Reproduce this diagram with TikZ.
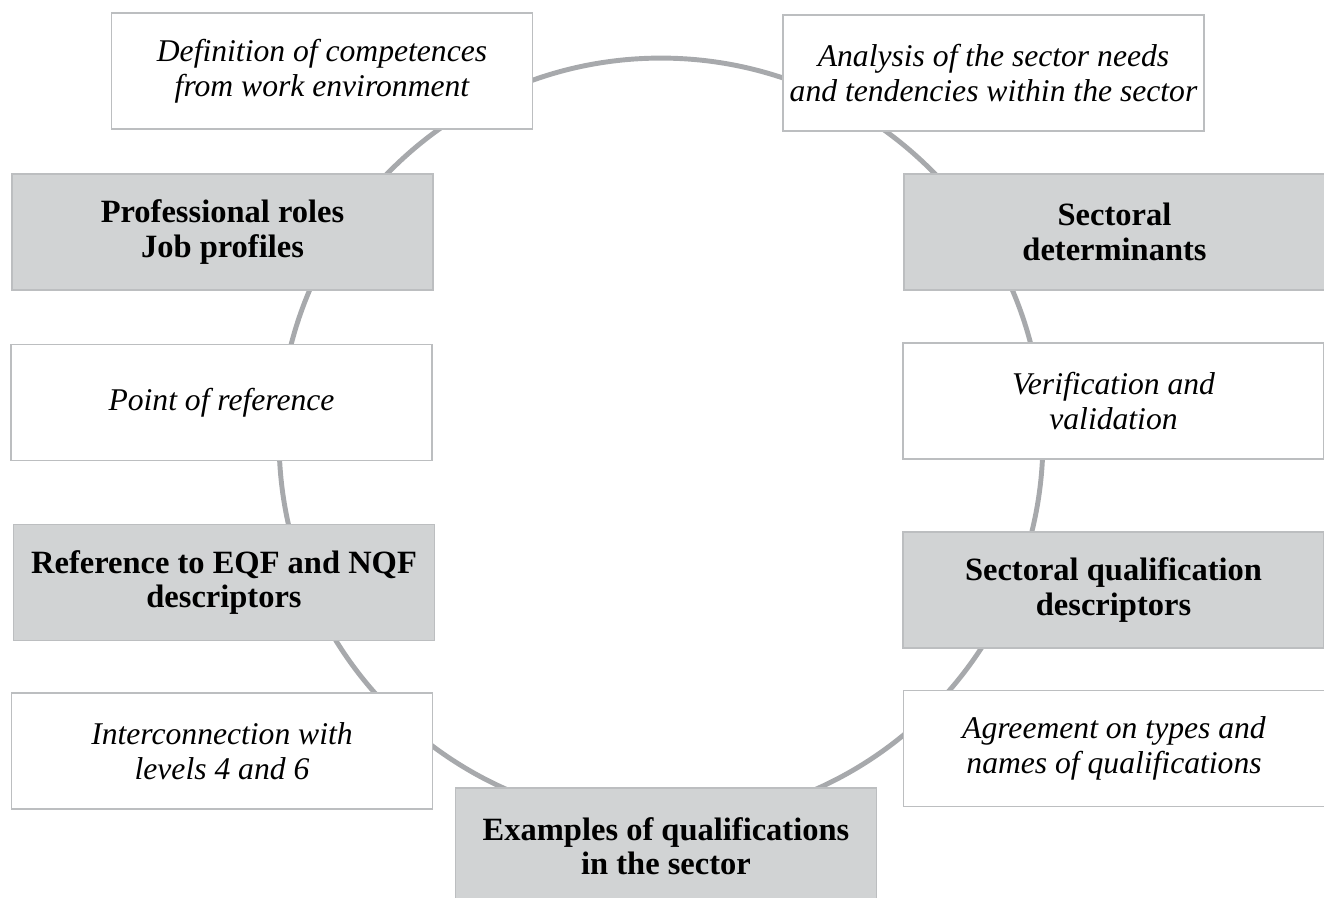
\documentclass[tikz,border=0pt]{standalone}
\usepackage{fontspec}
\setmainfont{Liberation Serif}

\definecolor{boxgray}{HTML}{D1D3D4}
\definecolor{ringgray}{HTML}{A7A9AC}
\definecolor{edgegray}{HTML}{BCBEC0}

\begin{document}
\begin{tikzpicture}[
    x=0.02cm, y=-0.02cm,
    ring/.style={draw=ringgray, line width=2.8pt},
    box/.style={rectangle, draw=edgegray, line width=0.8pt, minimum width=8.42cm, minimum height=2.32cm, align=center, inner sep=2pt},
    task/.style={box, fill=white, font=\fontsize{18}{20}\selectfont\itshape},
    stage/.style={box, fill=boxgray, font=\fontsize{18.5}{19.5}\selectfont\bfseries}
]
\useasboundingbox (0,0) rectangle (1324,897);

% Cycle behind the boxes
\draw[ring] (661,440) circle[radius=7.64cm];

% Define node positions
\node[task] (defin) at (322,71) {Definition of competences\\from work environment};
\node[task] (analysis) at (993.5,73) {Analysis of the sector needs\\and tendencies within the sector};
\node[stage] (roles) at (222.5,232) {Professional roles\\Job profiles};
\node[stage] (determ) at (1114.5,232) {Sectoral\\determinants};
\node[task] (refpoint) at (221.5,402.5) {Point of reference};
\node[task] (verif) at (1113.5,401) {Verification and\\validation};
\node[stage] (eqf) at (224,582.5) {Reference to EQF and NQF\\descriptors};
\node[stage] (descr) at (1113.5,590) {Sectoral qualification\\descriptors};
\node[task] (levels) at (222,751) {Interconnection with\\levels 4 and 6};
\node[task] (agree) at (1114,748.5) {Agreement on types and\\names of qualifications};
\node[stage] (examples) at (666,846) {Examples of qualifications\\in the sector};

\end{tikzpicture}
\end{document}
